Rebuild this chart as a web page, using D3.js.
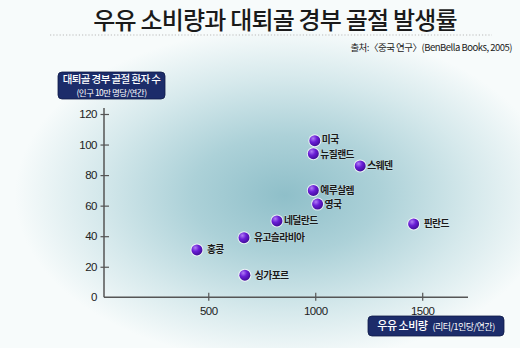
<!DOCTYPE html>
<html><head><meta charset="utf-8">
<script src="https://cdn.jsdelivr.net/npm/d3@7"></script>
<style>html,body{margin:0;padding:0;background:#fff;}svg{display:block;}</style>
</head><body>
<svg id="chart" width="520" height="348"></svg>
<script>
const countries = ["미국","뉴질랜드","스웨덴","예루살렘","영국","네덜란드","핀란드","유고슬라비아","홍콩","싱가포르"];
const milk = [998, 991, 1210, 991, 1011, 821, 1460, 667, 447, 671];
const fractures = [102.5, 94, 86, 70, 61, 50, 48, 39, 31, 14.5];
const xTicks = [500, 1000, 1500];
const yTicks = [0, 20, 40, 60, 80, 100, 120];
const title = "우유 소비량과 대퇴골 경부 골절 발생률";
const source = "출처:〈중국 연구〉(BenBella Books, 2005)";
const yLabel1 = "대퇴골 경부 골절 환자 수";
const yLabel2 = "(인구 10만 명당/연간)";
const xLabel1 = "우유 소비량";
const xLabel2 = "(리터/1인당/연간)";

const svg = d3.select("#chart");
const defs = svg.append("defs");
const bg = defs.append("radialGradient").attr("id","bg")
  .attr("gradientUnits","userSpaceOnUse").attr("cx",285).attr("cy",195).attr("r",270)
  .attr("gradientTransform","translate(285,195) scale(1,0.62) translate(-285,-195)");
bg.append("stop").attr("offset","0").attr("stop-color","#8fbfc9");
bg.append("stop").attr("offset","0.35").attr("stop-color","#acd1d8");
bg.append("stop").attr("offset","0.7").attr("stop-color","#d6e9ec");
bg.append("stop").attr("offset","1").attr("stop-color","#f7fbfb");
const dot = defs.append("radialGradient").attr("id","dot").attr("cx","0.35").attr("cy","0.3").attr("r","0.75");
dot.append("stop").attr("offset","0").attr("stop-color","#b07cf5");
dot.append("stop").attr("offset","0.45").attr("stop-color","#6a1ed6");
dot.append("stop").attr("offset","1").attr("stop-color","#3f0c96");

svg.append("rect").attr("width",520).attr("height",348).attr("fill","#f8fbfb");
svg.append("rect").attr("width",520).attr("height",348).attr("fill","url(#bg)");

// title
svg.append("text").attr("x",275).attr("y",29).attr("text-anchor","middle")
  .attr("font-family","Noto Sans CJK KR").attr("font-weight",500).attr("font-size",24)
  .attr("fill","#1a1a1a").attr("letter-spacing",-0.8).text(title);
svg.append("line").attr("x1",50).attr("x2",492).attr("y1",35).attr("y2",35)
  .attr("stroke","#bbbbbb").attr("stroke-width",1.2).attr("stroke-dasharray","1.2,2");
svg.append("text").attr("x",512).attr("y",51).attr("text-anchor","end")
  .attr("font-family","Noto Sans CJK KR").attr("font-size",9.5).attr("fill","#222")
  .attr("letter-spacing",-0.5).text(source);

const x = d3.scaleLinear().domain([0,1700]).range([101.3,465]);
const y = d3.scaleLinear().domain([0,120]).range([297.3,114]);

const axisColor = "#555";
const tickFont = "Liberation Sans Narrow, Arial Narrow, sans-serif";
// y axis
const gy = svg.append("g").attr("transform","translate(104,0)")
  .call(d3.axisLeft(y).tickValues(yTicks).tickFormat(d3.format("d")).tickSize(0).tickPadding(7));
gy.select(".domain").remove();
gy.selectAll("text").attr("font-family",tickFont)
  .attr("font-size",11.5).attr("fill","#222").attr("letter-spacing",-0.5);
gy.selectAll(".tick").filter(d=>d>0).append("line").attr("x1",-3.5).attr("x2",5).attr("stroke",axisColor).attr("stroke-width",1.2);
svg.append("line").attr("x1",104).attr("x2",104).attr("y1",y(120)-6).attr("y2",y(0))
  .attr("stroke",axisColor).attr("stroke-width",1.5);

// x axis
const gx = svg.append("g").attr("transform",`translate(0,${y(0)})`)
  .call(d3.axisBottom(x).tickValues(xTicks).tickFormat(d3.format("d")).tickSize(0).tickPadding(10));
gx.select(".domain").remove();
gx.selectAll("text").attr("font-family",tickFont)
  .attr("font-size",11.5).attr("fill","#222").attr("letter-spacing",-0.5);
gx.selectAll(".tick").append("line").attr("y1",-4.5).attr("y2",3.5).attr("stroke",axisColor).attr("stroke-width",1.2);
svg.append("line").attr("x1",104).attr("x2",468).attr("y1",y(0)).attr("y2",y(0))
  .attr("stroke",axisColor).attr("stroke-width",1.5);

// label boxes
function box(x0,y0,w,h){
  svg.append("rect").attr("x",x0).attr("y",y0).attr("width",w).attr("height",h).attr("rx",4)
    .attr("fill","#1c2c6a").attr("stroke","#0f1a48").attr("stroke-width",0.8);
}
box(58,72,107,27);
svg.append("text").attr("x",111.5).attr("y",83).attr("text-anchor","middle")
  .attr("font-family","Noto Sans CJK KR").attr("font-weight",500).attr("font-size",10.5)
  .attr("fill","#fff").attr("letter-spacing",-0.6).text(yLabel1);
svg.append("text").attr("x",111.5).attr("y",96).attr("text-anchor","middle")
  .attr("font-family","Noto Sans CJK KR").attr("font-size",8.5)
  .attr("fill","#fff").attr("letter-spacing",-0.5).text(yLabel2);

box(368,316,136,20);
const xl = svg.append("text").attr("x",436).attr("y",330).attr("text-anchor","middle")
  .attr("font-family","Noto Sans CJK KR").attr("fill","#fff").attr("letter-spacing",-0.5);
xl.append("tspan").attr("font-size",11).attr("font-weight",500).text(xLabel1);
xl.append("tspan").attr("font-size",9).attr("dx",5).text(xLabel2);

// points
const labelShift = {"미국":-1.5, "뉴질랜드":1};
const wideGap = new Set(["홍콩","핀란드","싱가포르","유고슬라비아"]);
const data = countries.map((c,i)=>({c, m:milk[i], f:fractures[i]}));
const pts = svg.append("g").selectAll("g").data(data).join("g")
  .attr("transform",d=>`translate(${x(d.m)},${y(d.f)})`);
pts.append("circle").attr("r",6.5).attr("fill","#ffffff").attr("opacity",0.75);
pts.append("circle").attr("r",5.5).attr("fill","url(#dot)");
pts.append("text").attr("x",d=> wideGap.has(d.c)?10:7).attr("y",d=>3.5+(labelShift[d.c]||0))
  .attr("font-family","Noto Sans CJK KR").attr("font-weight",700).attr("font-size",9.8)
  .attr("fill","#1a1a1a").attr("letter-spacing",-0.6)
  .attr("stroke","#ffffff").attr("stroke-width",0.6).attr("stroke-opacity",0.5).attr("paint-order","stroke")
  .text(d=>d.c);
</script>
</body></html>
